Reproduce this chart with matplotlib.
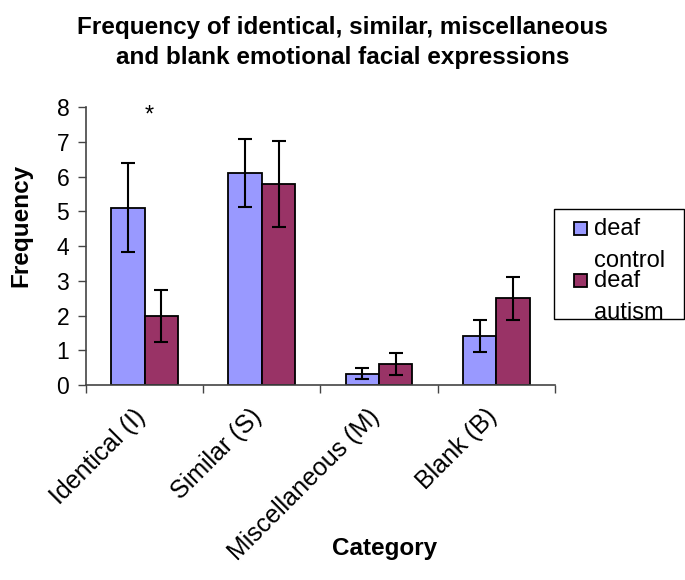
import numpy as np
import matplotlib
matplotlib.use('Agg')
import matplotlib.pyplot as plt
from matplotlib.patches import Rectangle
from matplotlib.container import BarContainer
from matplotlib.legend_handler import HandlerPatch, update_from_first_child

plt.rcParams['font.family'] = ['Liberation Sans', 'DejaVu Sans']

# datos
categorias = ['Identical (I)', 'Similar (S)', 'Miscellaneous (M)', 'Blank (B)']
grupos = ['deaf\ncontrol', 'deaf\nautism']
control = [5.1, 6.1, 0.33, 1.4]
control_err = [1.28, 0.97, 0.16, 0.46]
autismo = [2.0, 5.78, 0.6, 2.5]
autismo_err = [0.75, 1.23, 0.32, 0.62]

fig = plt.figure(figsize=(6.85, 5.8), dpi=100)
ax = fig.add_axes([0.1255, 0.336, 0.6845, 0.4795])

x = np.arange(len(categorias))
ancho = 0.285
ekw = dict(elinewidth=1.5, capthick=1.5, ecolor='black')
ax.bar(x - ancho / 2, control, ancho, yerr=control_err, capsize=5,
       color='#9999FF', edgecolor='black', linewidth=1.3, error_kw=ekw, label=grupos[0])
ax.bar(x + ancho / 2, autismo, ancho, yerr=autismo_err, capsize=5,
       color='#993366', edgecolor='black', linewidth=1.3, error_kw=ekw, label=grupos[1])

ax.text(0.04, 7.75, '*', ha='center', va='center', fontsize=17)

ax.set_xlim(-0.5, 3.5)
ax.set_ylim(0, 8)
ax.set_yticks(range(9))
ax.tick_params(axis='y', labelsize=16.5, length=6, width=1, color='#444444', pad=6)

# ticks en los limites de categoria, etiquetas un poco a la izquierda del centro
ax.set_xticks(np.arange(-0.5, 4.0, 1.0))
ax.set_xticklabels([])
ax.tick_params(axis='x', length=6, width=1, color='#444444')
ax.set_xticks(x - 0.1, minor=True)
ax.set_xticklabels(categorias, minor=True, rotation=45, ha='right',
                   rotation_mode='anchor', fontsize=18)
ax.tick_params(axis='x', which='minor', length=0, pad=14)

for lado in ['top', 'right']:
    ax.spines[lado].set_visible(False)
for lado in ['left', 'bottom']:
    ax.spines[lado].set_color('#444444')
    ax.spines[lado].set_linewidth(1.2)

ax.set_ylabel('Frequency', fontsize=17.5, fontweight='bold')
ax.yaxis.set_label_coords(-0.115, 0.575)
fig.text(0.562, 0.055, 'Category', ha='center', va='center', fontsize=17.5, fontweight='bold')
fig.suptitle('Frequency of identical, similar, miscellaneous\nand blank emotional facial expressions',
             x=0.5, y=0.972, va='top', fontsize=17.5, fontweight='bold', linespacing=1.4)


# cuadro de la leyenda alineado con la primera linea del texto
def cuadro(legend, orig_handle, xdescent, ydescent, width, height, fontsize):
    lado = 0.55 * fontsize
    return Rectangle((width - lado - xdescent, -ydescent + 0.75 * fontsize), lado, lado)


# marco de la leyenda dibujado aparte (el texto toca el borde inferior)
fig.patches.append(Rectangle((0.8088, 0.45), 0.190, 0.1897, transform=fig.transFigure,
                             facecolor='none', edgecolor='black', linewidth=1.0))

leg = ax.legend(loc='upper left', bbox_to_anchor=(0.809, 0.40, 0.189, 0.234),
                bbox_transform=fig.transFigure, mode='expand',
                fontsize=17, frameon=False,
                handlelength=1.15, handleheight=0.6, handletextpad=0.3,
                borderaxespad=0, borderpad=0.25, labelspacing=-0.05,
                handler_map={BarContainer: HandlerPatch(patch_func=cuadro,
                                                        update_func=update_from_first_child)})
for t in leg.get_texts():
    t.set_linespacing(1.55)

fig.savefig('out.png', dpi=100)
